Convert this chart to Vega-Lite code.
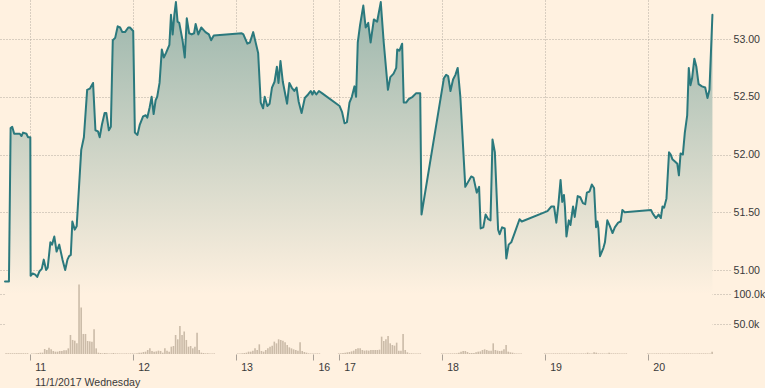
{
  "$schema": "https://vega.github.io/schema/vega-lite/v6.json",
  "width": 730,
  "height": 354,
  "padding": 0,
  "autosize": {"type": "pad"},
  "background": "#fff1e0",
  "config": {
    "view": {"stroke": null},
    "font": "Liberation Sans",
    "axis": {"labelFont": "Liberation Sans", "labelFontSize": 10.6, "labelColor": "#3a3a3a", "gridColor": "#b3aaa0", "gridDash": [1, 2], "gridWidth": 1, "domain": false, "title": null}
  },
  "datasets": {
    "price": [
      {"h":0.25,"p":50.90},{"h":1.17,"p":50.90},{"h":1.56,"p":52.23},{"h":1.93,"p":52.24},{"h":2.39,"p":52.18},{"h":3.70,"p":52.18},{"h":4.09,"p":52.16},{"h":4.45,"p":52.19},{"h":5.24,"p":52.18},{"h":5.60,"p":52.15},{"h":6.15,"p":52.15},{"h":6.22,"p":50.95},{"h":6.68,"p":50.97},{"h":7.30,"p":50.96},{"h":7.76,"p":50.94},{"h":8.29,"p":50.99},{"h":8.82,"p":51.01},{"h":9.28,"p":51.09},{"h":9.83,"p":51.00},{"h":10.20,"p":51.02},{"h":10.82,"p":51.24},{"h":11.21,"p":51.22},{"h":11.74,"p":51.29},{"h":12.27,"p":51.16},{"h":12.89,"p":51.22},{"h":13.65,"p":51.09},{"h":14.27,"p":51.00},{"h":14.80,"p":51.09},{"h":15.19,"p":51.12},{"h":15.58,"p":51.13},{"h":15.94,"p":51.42},{"h":16.50,"p":51.35},{"h":16.95,"p":51.38},{"h":18.01,"p":52.04},{"h":18.63,"p":52.15},{"h":19.39,"p":52.56},{"h":20.01,"p":52.57},{"h":20.77,"p":52.62},{"h":21.32,"p":52.21},{"h":21.92,"p":52.20},{"h":22.31,"p":52.15},{"h":22.84,"p":52.26},{"h":23.46,"p":52.36},{"h":23.85,"p":52.36},{"h":24.45,"p":52.21},{"h":24.91,"p":52.24},{"h":25.36,"p":52.99},{"h":25.92,"p":53.01},{"h":26.51,"p":53.11},{"h":27.07,"p":53.10},{"h":27.59,"p":53.06},{"h":28.21,"p":53.06},{"h":28.97,"p":53.10},{"h":29.36,"p":53.10},{"h":30.12,"p":53.07},{"h":30.51,"p":52.19},{"h":31.11,"p":52.17},{"h":31.66,"p":52.26},{"h":32.42,"p":52.33},{"h":33.04,"p":52.34},{"h":33.41,"p":52.32},{"h":33.96,"p":52.41},{"h":34.42,"p":52.50},{"h":34.88,"p":52.35},{"h":35.34,"p":52.47},{"h":35.71,"p":52.50},{"h":36.26,"p":52.62},{"h":36.79,"p":52.91},{"h":37.25,"p":52.84},{"h":37.77,"p":52.88},{"h":38.55,"p":52.95},{"h":38.92,"p":53.21},{"h":39.31,"p":53.04},{"h":39.70,"p":53.21},{"h":40.07,"p":53.32},{"h":40.46,"p":53.15},{"h":40.85,"p":53.14},{"h":41.61,"p":52.99},{"h":42.14,"p":52.84},{"h":42.60,"p":53.18},{"h":43.15,"p":53.05},{"h":43.75,"p":53.04},{"h":44.30,"p":53.05},{"h":44.67,"p":53.13},{"h":45.29,"p":53.04},{"h":45.98,"p":53.10},{"h":46.96,"p":53.06},{"h":47.75,"p":53.04},{"h":48.27,"p":52.99},{"h":48.89,"p":53.03},{"h":55.40,"p":53.05},{"h":55.79,"p":53.04},{"h":56.71,"p":52.96},{"h":57.31,"p":52.97},{"h":58.08,"p":53.06},{"h":59.23,"p":52.88},{"h":59.83,"p":52.45},{"h":60.38,"p":52.40},{"h":60.75,"p":52.50},{"h":61.37,"p":52.42},{"h":61.90,"p":52.44},{"h":62.45,"p":52.58},{"h":63.05,"p":52.63},{"h":63.60,"p":52.76},{"h":63.97,"p":52.62},{"h":64.43,"p":52.81},{"h":64.98,"p":52.63},{"h":65.97,"p":52.44},{"h":66.50,"p":52.62},{"h":67.05,"p":52.58},{"h":67.65,"p":52.55},{"h":68.19,"p":52.58},{"h":68.66,"p":52.46},{"h":69.35,"p":52.36},{"h":70.10,"p":52.49},{"h":70.86,"p":52.52},{"h":71.48,"p":52.55},{"h":71.87,"p":52.52},{"h":72.24,"p":52.55},{"h":72.79,"p":52.52},{"h":73.39,"p":52.55},{"h":74.17,"p":52.53},{"h":78.21,"p":52.42},{"h":78.77,"p":52.37},{"h":79.36,"p":52.27},{"h":79.92,"p":52.28},{"h":80.51,"p":52.45},{"h":81.06,"p":52.50},{"h":81.66,"p":52.59},{"h":82.05,"p":52.50},{"h":82.44,"p":52.97},{"h":82.97,"p":53.12},{"h":83.73,"p":53.29},{"h":84.28,"p":53.10},{"h":84.88,"p":53.14},{"h":85.43,"p":52.97},{"h":86.19,"p":53.17},{"h":86.95,"p":53.15},{"h":87.80,"p":53.32},{"h":88.49,"p":52.97},{"h":89.47,"p":52.56},{"h":90.02,"p":52.67},{"h":90.78,"p":52.70},{"h":91.40,"p":52.75},{"h":91.63,"p":52.91},{"h":92.16,"p":52.90},{"h":92.78,"p":52.96},{"h":93.15,"p":52.45},{"h":93.70,"p":52.45},{"h":94.30,"p":52.48},{"h":95.22,"p":52.50},{"h":96.00,"p":52.53},{"h":96.99,"p":52.53},{"h":97.29,"p":51.48},{"h":102.50,"p":52.66},{"h":103.03,"p":52.69},{"h":103.49,"p":52.68},{"h":104.04,"p":52.55},{"h":104.64,"p":52.65},{"h":105.19,"p":52.69},{"h":105.72,"p":52.75},{"h":106.34,"p":52.50},{"h":107.49,"p":51.72},{"h":108.87,"p":51.81},{"h":109.40,"p":51.80},{"h":110.16,"p":51.67},{"h":110.71,"p":51.72},{"h":111.07,"p":51.36},{"h":111.69,"p":51.37},{"h":112.22,"p":51.48},{"h":112.84,"p":51.44},{"h":113.37,"p":51.43},{"h":113.83,"p":52.13},{"h":114.38,"p":52.02},{"h":115.14,"p":51.35},{"h":115.49,"p":51.31},{"h":116.06,"p":51.37},{"h":116.68,"p":51.36},{"h":117.05,"p":51.10},{"h":117.60,"p":51.22},{"h":118.20,"p":51.24},{"h":118.98,"p":51.32},{"h":120.13,"p":51.44},{"h":120.65,"p":51.42},{"h":126.63,"p":51.51},{"h":127.55,"p":51.55},{"h":128.17,"p":51.55},{"h":128.70,"p":51.41},{"h":129.16,"p":51.56},{"h":129.69,"p":51.78},{"h":130.08,"p":51.59},{"h":130.47,"p":51.65},{"h":130.70,"p":51.55},{"h":131.06,"p":51.29},{"h":131.61,"p":51.43},{"h":131.99,"p":51.39},{"h":132.60,"p":51.55},{"h":132.99,"p":51.46},{"h":133.68,"p":51.64},{"h":134.28,"p":51.63},{"h":134.90,"p":51.58},{"h":135.43,"p":51.57},{"h":135.82,"p":51.67},{"h":136.44,"p":51.68},{"h":136.97,"p":51.74},{"h":137.50,"p":51.71},{"h":137.96,"p":51.37},{"h":138.28,"p":51.42},{"h":138.51,"p":51.36},{"h":138.88,"p":51.12},{"h":139.66,"p":51.19},{"h":140.03,"p":51.24},{"h":140.58,"p":51.43},{"h":141.18,"p":51.38},{"h":141.80,"p":51.32},{"h":142.33,"p":51.37},{"h":143.11,"p":51.41},{"h":143.70,"p":51.42},{"h":144.09,"p":51.52},{"h":144.62,"p":51.50},{"h":150.76,"p":51.52},{"h":151.15,"p":51.49},{"h":151.91,"p":51.45},{"h":152.53,"p":51.48},{"h":153.05,"p":51.45},{"h":153.44,"p":51.55},{"h":153.81,"p":51.54},{"h":154.36,"p":51.62},{"h":154.96,"p":52.02},{"h":155.35,"p":52.00},{"h":155.74,"p":51.96},{"h":156.34,"p":51.94},{"h":156.89,"p":51.92},{"h":157.26,"p":51.82},{"h":157.65,"p":52.01},{"h":158.18,"p":52.00},{"h":158.64,"p":52.19},{"h":159.19,"p":52.34},{"h":159.56,"p":52.75},{"h":159.95,"p":52.60},{"h":160.33,"p":52.66},{"h":160.86,"p":52.83},{"h":161.33,"p":52.76},{"h":161.85,"p":52.61},{"h":162.63,"p":52.59},{"h":163.39,"p":52.58},{"h":163.92,"p":52.49},{"h":164.38,"p":52.56},{"h":165.07,"p":53.21}
    ],
    "vol": [
      {"h":0.5,"v":1200},{"h":1.0,"v":1200},{"h":1.5,"v":1200},{"h":2.0,"v":1200},{"h":2.5,"v":1200},{"h":3.0,"v":1200},{"h":3.5,"v":1200},{"h":4.0,"v":1200},{"h":4.5,"v":1200},{"h":5.0,"v":1200},{"h":5.5,"v":1200},
      {"h":6.5,"v":1000},{"h":7.0,"v":1000},{"h":7.5,"v":1100},{"h":8.0,"v":1700},{"h":8.5,"v":2200},{"h":9.0,"v":2200},{"h":9.5,"v":8300},{"h":10.0,"v":6700},{"h":10.5,"v":10500},{"h":11.0,"v":7800},{"h":11.5,"v":5000},{"h":12.0,"v":3900},{"h":12.5,"v":3900},{"h":13.0,"v":5000},{"h":13.5,"v":5000},{"h":14.0,"v":6100},{"h":14.5,"v":6100},{"h":15.0,"v":9400},{"h":15.5,"v":31700},{"h":16.0,"v":23400},{"h":16.5,"v":22200},{"h":17.0,"v":17800},{"h":17.5,"v":116000},{"h":18.0,"v":77300},{"h":18.5,"v":33400},{"h":19.0,"v":33400},{"h":19.5,"v":21700},{"h":20.0,"v":21100},{"h":20.5,"v":20600},{"h":21.0,"v":41100},{"h":21.5,"v":9400},{"h":22.0,"v":2200},{"h":22.5,"v":1700},{"h":23.0,"v":1100},{"h":23.5,"v":1700},{"h":24.0,"v":1100},{"h":24.5,"v":1000},{"h":25.0,"v":1000},{"h":25.5,"v":1700},{"h":26.0,"v":1000},{"h":26.5,"v":1000},{"h":27.0,"v":1000},{"h":27.5,"v":1000},{"h":28.0,"v":1000},{"h":28.5,"v":1000},{"h":29.0,"v":1000},{"h":29.5,"v":1000},
      {"h":30.0,"v":1000},{"h":30.5,"v":1000},{"h":31.0,"v":1100},{"h":31.5,"v":2200},{"h":32.0,"v":2200},{"h":32.5,"v":3300},{"h":33.0,"v":3900},{"h":33.5,"v":6700},{"h":34.0,"v":9400},{"h":34.5,"v":5000},{"h":35.0,"v":3900},{"h":35.5,"v":4400},{"h":36.0,"v":5600},{"h":36.5,"v":5000},{"h":37.0,"v":2200},{"h":37.5,"v":9400},{"h":38.0,"v":5600},{"h":38.5,"v":3900},{"h":39.0,"v":12200},{"h":39.5,"v":13300},{"h":40.0,"v":31700},{"h":40.5,"v":24500},{"h":41.0,"v":46700},{"h":41.5,"v":31700},{"h":42.0,"v":37300},{"h":42.5,"v":23400},{"h":43.0,"v":12200},{"h":43.5,"v":13300},{"h":44.0,"v":9400},{"h":44.5,"v":12200},{"h":45.0,"v":35600},{"h":45.5,"v":6700},{"h":46.0,"v":2200},{"h":46.5,"v":1700},{"h":47.0,"v":1100},{"h":47.5,"v":1100},{"h":48.0,"v":1000},{"h":48.5,"v":1000},{"h":49.0,"v":1000},
      {"h":54.5,"v":1000},{"h":55.0,"v":1000},{"h":55.5,"v":1100},{"h":56.0,"v":1700},{"h":56.5,"v":2200},{"h":57.0,"v":3900},{"h":57.5,"v":3900},{"h":58.0,"v":5600},{"h":58.5,"v":9400},{"h":59.0,"v":6700},{"h":59.5,"v":16100},{"h":60.0,"v":5000},{"h":60.5,"v":3900},{"h":61.0,"v":6700},{"h":61.5,"v":9400},{"h":62.0,"v":12200},{"h":62.5,"v":13900},{"h":63.0,"v":20600},{"h":63.5,"v":17800},{"h":64.0,"v":24500},{"h":64.5,"v":23400},{"h":65.0,"v":22200},{"h":65.5,"v":19500},{"h":66.0,"v":15000},{"h":66.5,"v":11100},{"h":67.0,"v":9400},{"h":67.5,"v":7800},{"h":68.0,"v":6700},{"h":68.5,"v":5600},{"h":69.0,"v":19500},{"h":69.5,"v":5000},{"h":70.0,"v":3300},{"h":70.5,"v":2200},{"h":71.0,"v":1100},{"h":71.5,"v":1000},
      {"h":72.0,"v":1000},{"h":72.5,"v":1000},{"h":73.0,"v":1000},{"h":73.5,"v":1000},
      {"h":78.0,"v":1000},{"h":78.5,"v":1100},{"h":79.0,"v":1700},{"h":79.5,"v":2200},{"h":80.0,"v":2800},{"h":80.5,"v":3300},{"h":81.0,"v":4400},{"h":81.5,"v":5600},{"h":82.0,"v":8300},{"h":82.5,"v":9400},{"h":83.0,"v":9400},{"h":83.5,"v":6700},{"h":84.0,"v":5600},{"h":84.5,"v":6100},{"h":85.0,"v":5600},{"h":85.5,"v":6700},{"h":86.0,"v":6700},{"h":86.5,"v":6700},{"h":87.0,"v":6700},{"h":87.5,"v":7200},{"h":88.0,"v":28900},{"h":88.5,"v":21700},{"h":89.0,"v":24500},{"h":89.5,"v":30000},{"h":90.0,"v":17800},{"h":90.5,"v":15000},{"h":91.0,"v":13900},{"h":91.5,"v":18900},{"h":92.0,"v":5600},{"h":92.5,"v":5600},{"h":93.0,"v":33400},{"h":93.5,"v":6700},{"h":94.0,"v":2800},{"h":94.5,"v":1100},{"h":95.0,"v":1100},{"h":95.5,"v":1000},{"h":96.0,"v":1000},{"h":96.5,"v":1000},{"h":97.0,"v":1000},
      {"h":102.0,"v":1000},{"h":102.5,"v":1000},{"h":103.0,"v":1000},{"h":103.5,"v":1000},{"h":104.0,"v":1000},{"h":104.5,"v":1000},{"h":105.0,"v":1100},{"h":105.5,"v":1100},{"h":106.0,"v":2200},{"h":106.5,"v":3900},{"h":107.0,"v":5000},{"h":107.5,"v":5000},{"h":108.0,"v":3300},{"h":108.5,"v":1700},{"h":109.0,"v":1700},{"h":109.5,"v":1700},{"h":110.0,"v":2800},{"h":110.5,"v":3900},{"h":111.0,"v":4400},{"h":111.5,"v":6700},{"h":112.0,"v":7800},{"h":112.5,"v":6700},{"h":113.0,"v":5600},{"h":113.5,"v":5600},{"h":114.0,"v":17800},{"h":114.5,"v":6700},{"h":115.0,"v":5600},{"h":115.5,"v":5000},{"h":116.0,"v":5600},{"h":116.5,"v":7800},{"h":117.0,"v":15000},{"h":117.5,"v":3900},{"h":118.0,"v":2800},{"h":118.5,"v":2200},{"h":119.0,"v":1100},{"h":119.5,"v":1000},{"h":120.0,"v":1000},{"h":120.5,"v":1000},
      {"h":126.0,"v":1000},{"h":126.5,"v":1000},{"h":127.0,"v":1000},{"h":127.5,"v":1000},{"h":128.0,"v":1000},{"h":128.5,"v":1000},{"h":129.0,"v":1000},{"h":129.5,"v":1000},{"h":130.0,"v":1000},{"h":130.5,"v":1000},{"h":131.0,"v":1000},{"h":131.5,"v":1000},{"h":132.0,"v":1000},{"h":132.5,"v":1000},{"h":133.0,"v":1000},{"h":133.5,"v":1000},{"h":134.0,"v":1000},{"h":134.5,"v":1000},{"h":135.0,"v":1000},{"h":135.5,"v":1000},{"h":136.0,"v":2200},{"h":136.5,"v":1000},{"h":137.0,"v":1000},{"h":137.5,"v":2800},{"h":138.0,"v":2200},{"h":138.5,"v":1000},{"h":139.0,"v":1000},{"h":139.5,"v":1000},{"h":140.0,"v":1000},{"h":140.5,"v":1000},{"h":141.0,"v":2200},{"h":141.5,"v":1000},{"h":142.0,"v":1000},{"h":142.5,"v":1000},{"h":143.0,"v":1000},{"h":143.5,"v":1000},{"h":144.0,"v":1000},{"h":144.5,"v":1000},{"h":145.0,"v":1000},
      {"h":150.0,"v":1000},{"h":150.5,"v":1000},{"h":151.0,"v":1000},{"h":151.5,"v":1000},{"h":152.0,"v":1000},{"h":152.5,"v":1000},{"h":153.0,"v":1000},{"h":153.5,"v":1000},{"h":154.0,"v":1000},{"h":154.5,"v":1000},{"h":155.0,"v":1000},{"h":155.5,"v":1000},{"h":156.0,"v":1000},{"h":156.5,"v":1000},{"h":157.0,"v":1000},{"h":157.5,"v":1000},{"h":158.0,"v":1000},{"h":158.5,"v":1000},{"h":159.0,"v":1000},{"h":159.5,"v":1000},{"h":160.0,"v":1000},{"h":160.5,"v":1000},{"h":161.0,"v":1000},{"h":161.5,"v":1000},{"h":162.0,"v":1000},{"h":162.5,"v":1000},{"h":163.0,"v":1000},{"h":163.5,"v":1000},{"h":164.0,"v":1000},{"h":164.5,"v":1000},{"h":165.0,"v":3900}
    ]
  },
  "layer": [
    {
      "data": {"name": "price"},
      "mark": {
        "type": "area",
        "opacity": 1,
        "line": {"color": "#2b797d", "strokeWidth": 2, "strokeJoin": "round", "strokeCap": "round"},
        "fill": {"gradient": "linear", "x1": 0, "y1": 0, "x2": 0, "y2": 1, "stops": [{"offset": 0, "color": "#9bb6ac"}, {"offset": 0.83, "color": "#fff1e0"}, {"offset": 1, "color": "#fff1e0"}]}
      },
      "encoding": {
        "x": {"field": "h", "type": "quantitative", "scale": {"domain": [0.25, 168], "nice": false, "zero": false},
          "axis": {"values": [6, 30, 54, 72, 78, 102, 126, 150], "grid": true, "ticks": true, "tickSize": 6, "tickColor": "#a8a097", "labelAlign": "left", "labelBaseline": "top", "labelOffset": 5, "labelPadding": 2, "labelFlush": false, "labelOverlap": false, "labelLineHeight": 15,
            "labelExpr": "datum.value == 6 ? ['11', '11/1/2017 Wednesday'] : datum.value == 30 ? '12' : datum.value == 54 ? '13' : datum.value == 72 ? '16' : datum.value == 78 ? '17' : datum.value == 102 ? '18' : datum.value == 126 ? '19' : '20'"}},
        "y": {"field": "p", "type": "quantitative", "scale": {"domain": [50.273, 53.338], "nice": false, "zero": false},
          "axis": {"orient": "right", "values": [51, 51.5, 52, 52.5, 53], "format": ".2f", "ticks": false, "labelPadding": 3, "grid": true}},
        "y2": {"datum": 50.273}
      }
    },
    {
      "data": {"name": "vol"},
      "mark": {"type": "bar", "width": 1.6, "color": "#cbbba8", "opacity": 1},
      "encoding": {
        "x": {"field": "h", "type": "quantitative"},
        "y": {"field": "v", "type": "quantitative", "scale": {"domain": [0, 590000], "nice": false},
          "axis": {"orient": "right", "values": [50000, 100000], "labelExpr": "format(datum.value / 1000, '.1f') + 'k'", "ticks": false, "labelPadding": 3, "grid": true}}
      }
    }
  ],
  "resolve": {"scale": {"y": "independent"}, "axis": {"y": "independent"}}
}
